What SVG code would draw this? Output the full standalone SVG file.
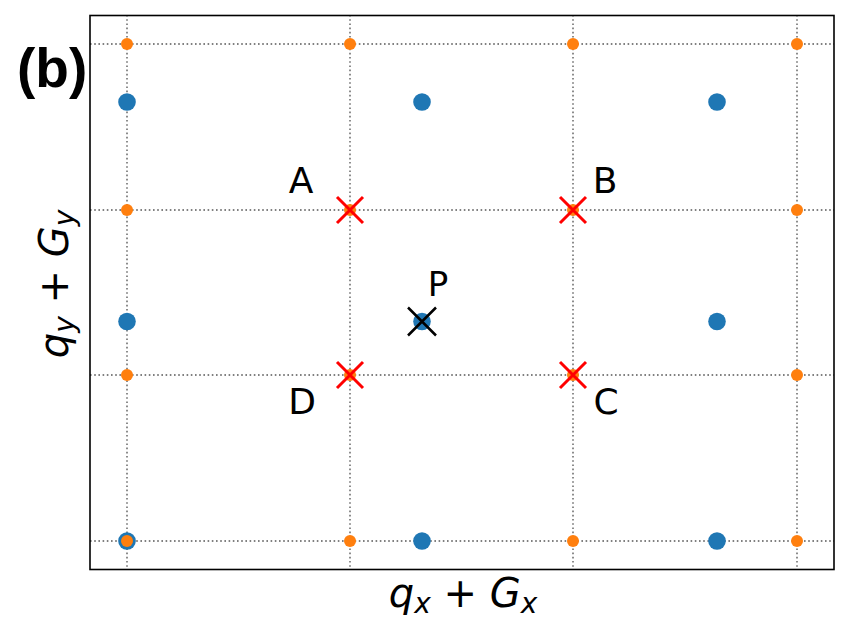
<svg xmlns="http://www.w3.org/2000/svg" width="850" height="633" viewBox="0 0 850 633">
<style>
.grid{stroke:#808080;stroke-width:1.8;stroke-dasharray:1.6 2.6;fill:none}
.blue{fill:#1f77b4}
.orange{fill:#ff7f0e}
.rx{stroke:#ff0000;stroke-width:3;fill:none}
.bx{stroke:#000;stroke-width:2.5;fill:none}
.lbl{font-family:"DejaVu Sans",sans-serif;font-size:36px;fill:#000;text-anchor:middle}
.ax{font-family:"DejaVu Sans",sans-serif;font-size:40px;fill:#000;text-anchor:middle}
.it{font-style:oblique}
</style>
<rect x="0" y="0" width="850" height="633" fill="#fff"/>
<g id="grid">
<line class="grid" x1="127" y1="15" x2="127" y2="569"/>
<line class="grid" x1="350" y1="15" x2="350" y2="569"/>
<line class="grid" x1="573" y1="15" x2="573" y2="569"/>
<line class="grid" x1="797" y1="15" x2="797" y2="569"/>
<line class="grid" x1="90" y1="44" x2="834" y2="44"/>
<line class="grid" x1="90" y1="210" x2="834" y2="210"/>
<line class="grid" x1="90" y1="375" x2="834" y2="375"/>
<line class="grid" x1="90" y1="541" x2="834" y2="541"/>
</g>
<g id="blue-points">
<circle class="blue" cx="127" cy="102" r="8.8"/>
<circle class="blue" cx="422" cy="102" r="8.8"/>
<circle class="blue" cx="717" cy="102" r="8.8"/>
<circle class="blue" cx="127" cy="321.5" r="8.8"/>
<circle class="blue" cx="422" cy="321.5" r="8.8"/>
<circle class="blue" cx="717" cy="321.5" r="8.8"/>
<circle class="blue" cx="127" cy="541" r="8.8"/>
<circle class="blue" cx="422" cy="541" r="8.8"/>
<circle class="blue" cx="717" cy="541" r="8.8"/>
</g>
<g id="orange-points">
<circle class="orange" cx="127" cy="44" r="6"/>
<circle class="orange" cx="350" cy="44" r="6"/>
<circle class="orange" cx="573" cy="44" r="6"/>
<circle class="orange" cx="797" cy="44" r="6"/>
<circle class="orange" cx="127" cy="210" r="6"/>
<circle class="orange" cx="350" cy="210" r="6"/>
<circle class="orange" cx="573" cy="210" r="6"/>
<circle class="orange" cx="797" cy="210" r="6"/>
<circle class="orange" cx="127" cy="375" r="6"/>
<circle class="orange" cx="350" cy="375" r="6"/>
<circle class="orange" cx="573" cy="375" r="6"/>
<circle class="orange" cx="797" cy="375" r="6"/>
<circle class="orange" cx="127" cy="541" r="6"/>
<circle class="orange" cx="350" cy="541" r="6"/>
<circle class="orange" cx="573" cy="541" r="6"/>
<circle class="orange" cx="797" cy="541" r="6"/>
</g>
<g id="A"><path class="rx" d="M337 197L363 223M337 223L363 197"/><text class="lbl" x="301" y="193">A</text></g>
<g id="B"><path class="rx" d="M560 197L586 223M560 223L586 197"/><text class="lbl" x="605" y="193">B</text></g>
<g id="C"><path class="rx" d="M560 362L586 388M560 388L586 362"/><text class="lbl" x="606" y="414">C</text></g>
<g id="D"><path class="rx" d="M337 362L363 388M337 388L363 362"/><text class="lbl" x="302" y="414">D</text></g>
<g id="P"><path class="bx" d="M408 307.5L436 335.5M408 335.5L436 307.5"/><text class="lbl" x="438" y="296" style="font-size:34px">P</text></g>
<rect x="90" y="15.5" width="744" height="554" fill="none" stroke="#000" stroke-width="1.6"/>
<text x="17" y="87" style="font-family:'Liberation Sans',Arial,sans-serif;font-weight:bold;font-size:55px">(b)</text>
<text class="ax" x="463" y="607"><tspan class="it">q</tspan><tspan class="it" font-size="28" dy="6">x</tspan><tspan dy="-6"> + </tspan><tspan class="it">G</tspan><tspan class="it" font-size="28" dy="6">x</tspan></text>
<text class="ax" transform="translate(68,284) rotate(-90)" x="0" y="0"><tspan class="it">q</tspan><tspan class="it" font-size="28" dy="6">y</tspan><tspan dy="-6"> + </tspan><tspan class="it">G</tspan><tspan class="it" font-size="28" dy="6">y</tspan></text>
</svg>
